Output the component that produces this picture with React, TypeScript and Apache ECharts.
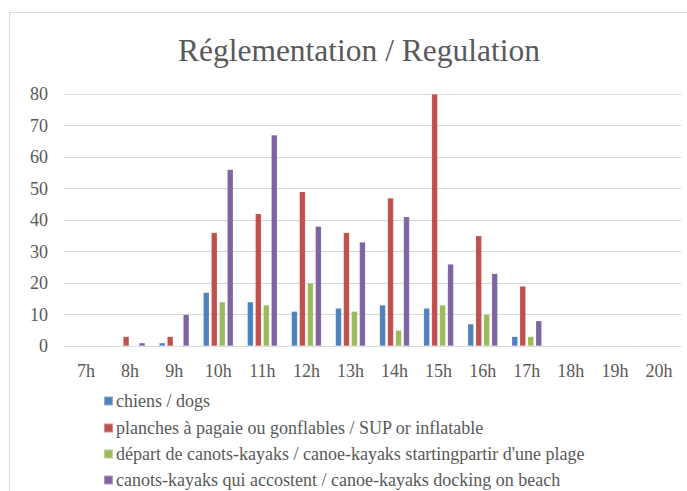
import React, { useEffect, useRef } from "react";
import * as echarts from "echarts";

const categories = ["7h", "8h", "9h", "10h", "11h", "12h", "13h", "14h", "15h", "16h", "17h", "18h", "19h", "20h"];
const dogs = [0, 0, 1, 17, 14, 11, 12, 13, 12, 7, 3, 0, 0, 0];
const sup = [0, 3, 3, 36, 42, 49, 36, 47, 80, 35, 19, 0, 0, 0];
const departs = [0, 0, 0, 14, 13, 20, 11, 5, 13, 10, 3, 0, 0, 0];
const docking = [0, 1, 10, 56, 67, 38, 33, 41, 26, 23, 8, 0, 0, 0];
const seriesNames = [
  "chiens / dogs",
  "planches à pagaie ou gonflables / SUP or inflatable",
  "départ de canots-kayaks / canoe-kayaks startingpartir d'une plage",
  "canots-kayaks qui accostent / canoe-kayaks docking on beach",
];
const colors = ["#4f81bd", "#c0504d", "#9bbb59", "#8064a2"];
const yTicks = [0, 10, 20, 30, 40, 50, 60, 70, 80];

const FONT = "Liberation Serif";
const legendTops = [392, 419, 445, 471];

export default function App() {
  const ref = useRef<HTMLDivElement>(null);
  useEffect(() => {
    const chart = echarts.init(ref.current!, null, { renderer: "svg" });
    const data = [dogs, sup, departs, docking];
    chart.setOption({
      animation: false,
      backgroundColor: "#ffffff",
      title: {
        text: "Réglementation / Regulation",
        left: 354,
        top: 29,
        textAlign: "center",
        textStyle: { fontFamily: FONT, fontSize: 31.5, fontWeight: "normal", color: "#595959" },
      },
      graphic: [
        {
          type: "rect",
          shape: { x: 9.5, y: 12.5, width: 700, height: 500 },
          style: { fill: "none", stroke: "#d9d9d9", lineWidth: 1 },
          silent: true,
        },
      ],
      legend: seriesNames.map((name, i) => ({
        orient: "vertical",
        left: 103,
        top: legendTops[i],
        padding: 0,
        itemWidth: 9,
        itemHeight: 9,
        icon: "rect",
        textStyle: { fontFamily: FONT, fontSize: 18, color: "#595959", lineHeight: 18, padding: [0, 0, 0, -2] },
        data: [name],
      })),
      grid: { left: 64, right: 6, top: 94, bottom: 145, containLabel: false },
      xAxis: {
        type: "category",
        data: categories,
        axisLine: { lineStyle: { color: "#d9d9d9", width: 1 } },
        axisTick: { show: false },
        axisLabel: { fontFamily: FONT, fontSize: 18, color: "#595959", margin: 16 },
      },
      yAxis: {
        type: "value",
        min: yTicks[0],
        max: yTicks[yTicks.length - 1],
        interval: 10,
        axisLine: { show: false },
        axisTick: { show: false },
        splitLine: { lineStyle: { color: "#d9d9d9", width: 1 } },
        axisLabel: { fontFamily: FONT, fontSize: 18, color: "#595959", margin: 16 },
      },
      series: seriesNames.map((name, i) => ({
        name,
        type: "bar",
        data: data[i],
        barWidth: 6,
        barGap: "33%",
        itemStyle: { color: colors[i], borderColor: "rgba(255,255,255,0.35)", borderWidth: 0.5 },
      })),
    });
    return () => chart.dispose();
  }, []);
  return (
    <div
      ref={ref}
      style={{ position: "fixed", left: 0, top: 0, width: 687, height: 491 }}
    />
  );
}
